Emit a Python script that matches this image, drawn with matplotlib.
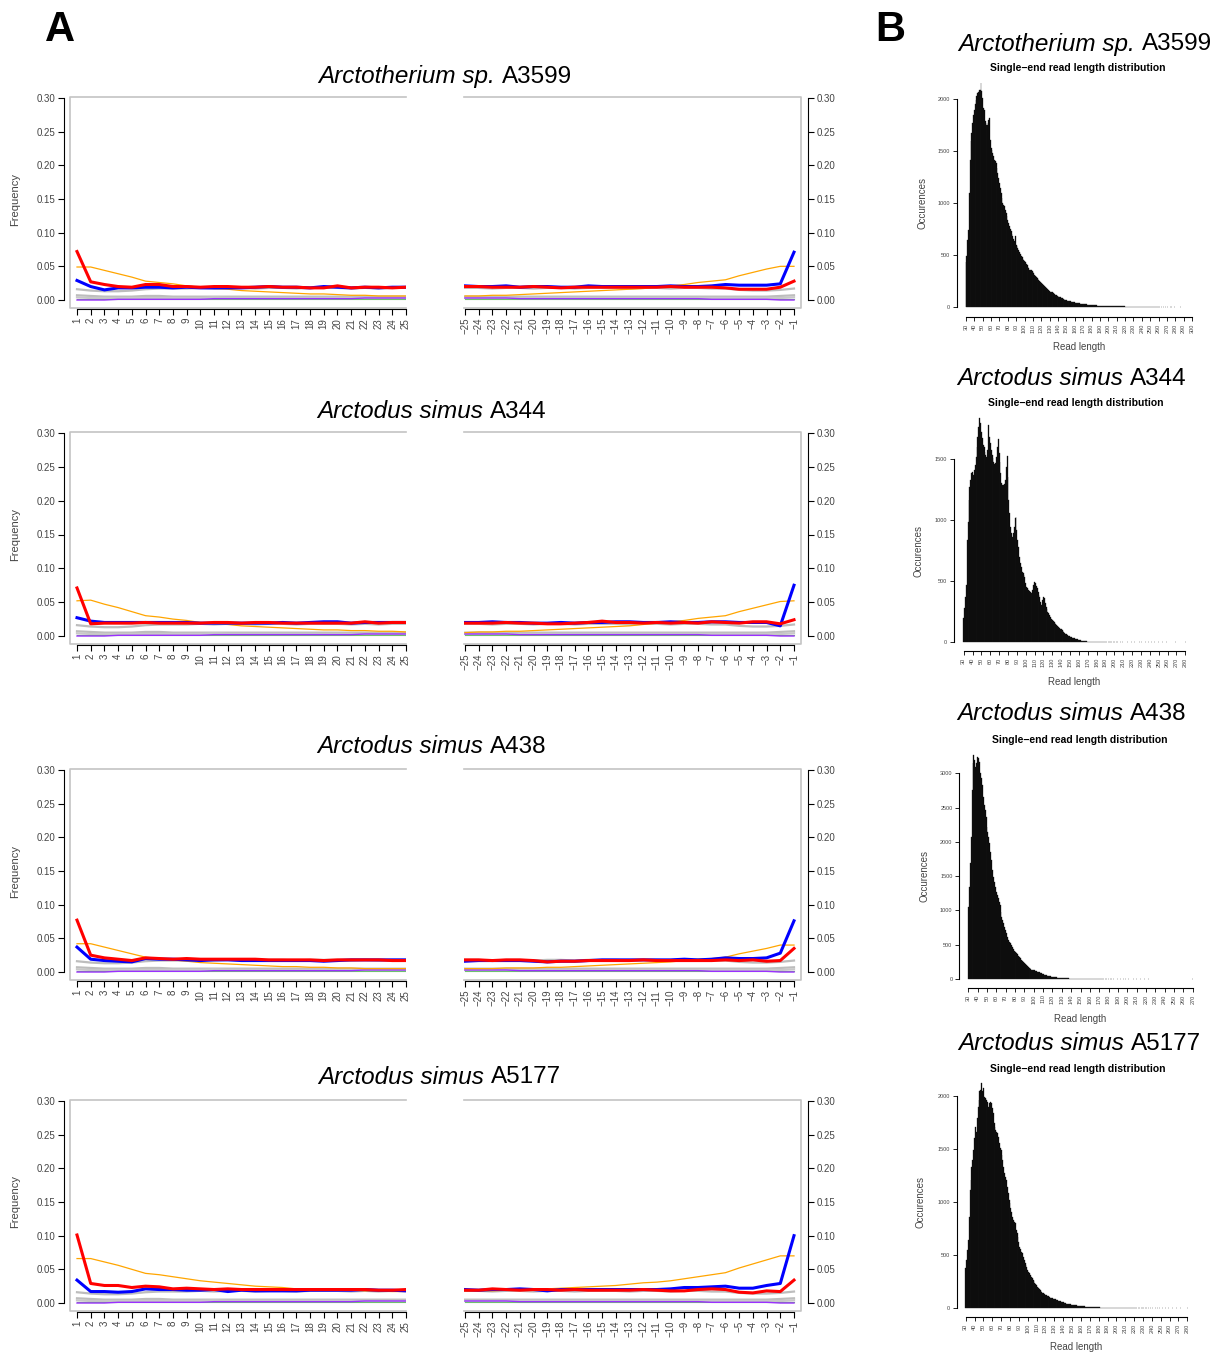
import matplotlib
matplotlib.use('Agg')
import matplotlib.pyplot as plt

plt.rcParams['font.family'] = 'Liberation Sans'

# ---- data: misincorporation frequencies (5' positions 1..25, 3' positions -25..-1)
pos5 = list(range(1, 26))
pos3 = list(range(-25, 0))
species = ['Arctotherium sp.', 'Arctodus simus', 'Arctodus simus', 'Arctodus simus']
samples = ['A3599', 'A344', 'A438', 'A5177']

a3599_ct5 = [0.072, 0.027, 0.023, 0.020, 0.019, 0.023, 0.023, 0.020, 0.020, 0.019, 0.020, 0.020, 0.019,
             0.019, 0.020, 0.019, 0.019, 0.018, 0.018, 0.021, 0.018, 0.019, 0.019, 0.018, 0.019]
a3599_ga5 = [0.029, 0.020, 0.015, 0.018, 0.018, 0.019, 0.019, 0.018, 0.019, 0.018, 0.018, 0.018, 0.018,
             0.019, 0.020, 0.019, 0.019, 0.018, 0.020, 0.019, 0.018, 0.019, 0.018, 0.019, 0.019]
a3599_clip5 = [0.049, 0.049, 0.044, 0.039, 0.034, 0.028, 0.026, 0.024, 0.021, 0.019, 0.017, 0.016, 0.014,
               0.013, 0.012, 0.011, 0.010, 0.009, 0.009, 0.008, 0.007, 0.007, 0.006, 0.006, 0.006]
a3599_ct3 = [0.020, 0.020, 0.019, 0.019, 0.019, 0.020, 0.019, 0.018, 0.019, 0.019, 0.019, 0.019, 0.019,
             0.019, 0.019, 0.020, 0.019, 0.019, 0.019, 0.018, 0.016, 0.016, 0.016, 0.019, 0.028]
a3599_ga3 = [0.021, 0.020, 0.020, 0.021, 0.019, 0.020, 0.020, 0.019, 0.019, 0.021, 0.020, 0.020, 0.020,
             0.020, 0.020, 0.021, 0.020, 0.020, 0.021, 0.023, 0.022, 0.022, 0.022, 0.024, 0.071]
a3599_clip3 = [0.006, 0.006, 0.007, 0.007, 0.008, 0.009, 0.010, 0.011, 0.012, 0.013, 0.014, 0.015, 0.016,
               0.017, 0.019, 0.021, 0.023, 0.026, 0.028, 0.030, 0.036, 0.041, 0.046, 0.050, 0.050]

a344_ct5 = [0.071, 0.018, 0.019, 0.019, 0.019, 0.020, 0.019, 0.019, 0.019, 0.019, 0.020, 0.020, 0.019,
            0.020, 0.020, 0.019, 0.019, 0.019, 0.019, 0.019, 0.019, 0.021, 0.019, 0.020, 0.020]
a344_ga5 = [0.027, 0.022, 0.020, 0.020, 0.020, 0.020, 0.020, 0.020, 0.020, 0.019, 0.019, 0.019, 0.019,
            0.019, 0.019, 0.020, 0.019, 0.020, 0.021, 0.021, 0.019, 0.020, 0.020, 0.020, 0.020]
a344_clip5 = [0.052, 0.053, 0.047, 0.042, 0.036, 0.030, 0.028, 0.025, 0.023, 0.020, 0.018, 0.017, 0.015,
              0.014, 0.013, 0.012, 0.011, 0.010, 0.009, 0.009, 0.008, 0.008, 0.007, 0.007, 0.006]
a344_ct3 = [0.019, 0.019, 0.019, 0.020, 0.019, 0.019, 0.018, 0.018, 0.019, 0.020, 0.022, 0.020, 0.020,
            0.019, 0.020, 0.019, 0.020, 0.019, 0.021, 0.020, 0.019, 0.021, 0.021, 0.018, 0.024]
a344_ga3 = [0.020, 0.020, 0.021, 0.020, 0.020, 0.019, 0.019, 0.020, 0.019, 0.020, 0.020, 0.021, 0.021,
            0.020, 0.020, 0.021, 0.020, 0.020, 0.021, 0.021, 0.020, 0.020, 0.020, 0.015, 0.075]
a344_clip3 = [0.005, 0.006, 0.006, 0.007, 0.007, 0.008, 0.009, 0.010, 0.011, 0.012, 0.013, 0.014, 0.015,
              0.017, 0.019, 0.021, 0.023, 0.026, 0.028, 0.030, 0.036, 0.041, 0.046, 0.051, 0.052]

a438_ct5 = [0.077, 0.025, 0.021, 0.019, 0.017, 0.021, 0.020, 0.019, 0.020, 0.019, 0.019, 0.019, 0.019,
            0.019, 0.018, 0.018, 0.018, 0.018, 0.017, 0.018, 0.018, 0.018, 0.018, 0.017, 0.017]
a438_ga5 = [0.037, 0.019, 0.017, 0.016, 0.015, 0.020, 0.019, 0.019, 0.018, 0.017, 0.018, 0.018, 0.017,
            0.017, 0.017, 0.017, 0.017, 0.017, 0.016, 0.017, 0.018, 0.018, 0.018, 0.018, 0.018]
a438_clip5 = [0.042, 0.042, 0.037, 0.032, 0.027, 0.022, 0.020, 0.018, 0.016, 0.014, 0.013, 0.012, 0.011,
              0.010, 0.009, 0.008, 0.008, 0.007, 0.007, 0.006, 0.006, 0.005, 0.005, 0.005, 0.005]
a438_ct3 = [0.018, 0.018, 0.017, 0.018, 0.018, 0.017, 0.015, 0.016, 0.016, 0.017, 0.017, 0.017, 0.017,
            0.018, 0.017, 0.017, 0.017, 0.017, 0.017, 0.018, 0.017, 0.018, 0.016, 0.017, 0.035]
a438_ga3 = [0.016, 0.017, 0.017, 0.017, 0.017, 0.016, 0.015, 0.016, 0.016, 0.017, 0.018, 0.018, 0.018,
            0.018, 0.018, 0.018, 0.019, 0.018, 0.019, 0.021, 0.020, 0.020, 0.021, 0.028, 0.076]
a438_clip3 = [0.005, 0.005, 0.005, 0.006, 0.006, 0.006, 0.007, 0.007, 0.008, 0.009, 0.010, 0.011, 0.012,
              0.013, 0.014, 0.015, 0.017, 0.019, 0.020, 0.022, 0.027, 0.031, 0.035, 0.040, 0.040]

a5177_ct5 = [0.101, 0.029, 0.026, 0.026, 0.023, 0.025, 0.024, 0.021, 0.022, 0.021, 0.020, 0.021, 0.020,
             0.020, 0.020, 0.020, 0.020, 0.020, 0.020, 0.020, 0.020, 0.020, 0.019, 0.019, 0.020]
a5177_ga5 = [0.034, 0.017, 0.017, 0.016, 0.017, 0.021, 0.020, 0.020, 0.019, 0.019, 0.020, 0.017, 0.019,
             0.018, 0.018, 0.018, 0.018, 0.019, 0.019, 0.019, 0.019, 0.020, 0.019, 0.019, 0.018]
a5177_clip5 = [0.066, 0.066, 0.061, 0.056, 0.050, 0.044, 0.042, 0.039, 0.036, 0.033, 0.031, 0.029, 0.027,
               0.025, 0.024, 0.023, 0.021, 0.020, 0.020, 0.019, 0.019, 0.018, 0.018, 0.017, 0.017]
a5177_ct3 = [0.019, 0.019, 0.021, 0.020, 0.019, 0.020, 0.020, 0.019, 0.020, 0.019, 0.019, 0.019, 0.019,
             0.020, 0.019, 0.018, 0.018, 0.020, 0.021, 0.020, 0.016, 0.015, 0.018, 0.017, 0.034]
a5177_ga3 = [0.020, 0.019, 0.020, 0.020, 0.021, 0.020, 0.018, 0.020, 0.020, 0.020, 0.020, 0.020, 0.020,
             0.020, 0.020, 0.021, 0.023, 0.023, 0.024, 0.025, 0.022, 0.022, 0.026, 0.029, 0.100]
a5177_clip3 = [0.018, 0.018, 0.018, 0.019, 0.019, 0.020, 0.021, 0.022, 0.023, 0.024, 0.025, 0.026, 0.028,
               0.030, 0.031, 0.033, 0.036, 0.039, 0.042, 0.045, 0.052, 0.058, 0.064, 0.070, 0.070]

# other substitutions / indels (shared, nearly identical in every sample)
other_hi5 = [0.016, 0.014, 0.013, 0.013, 0.014, 0.016, 0.017, 0.017, 0.017, 0.018, 0.017, 0.018, 0.018,
             0.017, 0.018, 0.018, 0.017, 0.018, 0.018, 0.018, 0.017, 0.018, 0.017, 0.018, 0.018]
other_hi3 = [0.018, 0.018, 0.017, 0.018, 0.018, 0.017, 0.018, 0.018, 0.017, 0.018, 0.018, 0.018, 0.017,
             0.018, 0.018, 0.017, 0.018, 0.018, 0.017, 0.017, 0.015, 0.014, 0.014, 0.015, 0.017]
other_lo5 = [0.007, 0.006, 0.005, 0.005, 0.005, 0.006, 0.006, 0.005, 0.005, 0.005, 0.005, 0.005, 0.005,
             0.005, 0.005, 0.005, 0.005, 0.005, 0.005, 0.005, 0.005, 0.005, 0.005, 0.005, 0.005]
other_lo3 = [0.005, 0.005, 0.005, 0.005, 0.005, 0.005, 0.005, 0.005, 0.005, 0.005, 0.005, 0.005, 0.005,
             0.005, 0.005, 0.005, 0.005, 0.005, 0.005, 0.005, 0.005, 0.005, 0.005, 0.006, 0.007]
other_min5 = [0.004, 0.003, 0.003, 0.003, 0.003, 0.003, 0.003, 0.003, 0.003, 0.003, 0.004, 0.003, 0.003,
              0.003, 0.003, 0.003, 0.003, 0.003, 0.003, 0.003, 0.003, 0.003, 0.003, 0.003, 0.003]
other_min3 = [0.003, 0.003, 0.003, 0.003, 0.003, 0.003, 0.003, 0.003, 0.003, 0.003, 0.003, 0.003, 0.003,
              0.003, 0.003, 0.003, 0.003, 0.003, 0.003, 0.003, 0.003, 0.003, 0.003, 0.003, 0.004]
ins5 = [0.002, 0.002, 0.002, 0.002, 0.002, 0.002, 0.002, 0.002, 0.002, 0.002, 0.002, 0.002, 0.002,
        0.002, 0.002, 0.002, 0.002, 0.002, 0.002, 0.002, 0.002, 0.002, 0.002, 0.002, 0.002]
ins3 = [0.002, 0.002, 0.002, 0.002, 0.002, 0.002, 0.002, 0.002, 0.002, 0.002, 0.002, 0.002, 0.002,
        0.002, 0.002, 0.002, 0.002, 0.002, 0.002, 0.002, 0.002, 0.002, 0.002, 0.002, 0.002]
del5 = [0.000, 0.000, 0.000, 0.001, 0.001, 0.001, 0.001, 0.001, 0.001, 0.001, 0.002, 0.002, 0.002,
        0.002, 0.002, 0.002, 0.002, 0.002, 0.002, 0.002, 0.002, 0.003, 0.003, 0.003, 0.003]
del3 = [0.003, 0.003, 0.003, 0.003, 0.002, 0.002, 0.002, 0.002, 0.002, 0.002, 0.002, 0.002, 0.002,
        0.002, 0.002, 0.002, 0.002, 0.002, 0.001, 0.001, 0.001, 0.001, 0.001, 0.000, 0.000]

ct5 = [a3599_ct5, a344_ct5, a438_ct5, a5177_ct5]
ga5 = [a3599_ga5, a344_ga5, a438_ga5, a5177_ga5]
clip5 = [a3599_clip5, a344_clip5, a438_clip5, a5177_clip5]
ct3 = [a3599_ct3, a344_ct3, a438_ct3, a5177_ct3]
ga3 = [a3599_ga3, a344_ga3, a438_ga3, a5177_ga3]
clip3 = [a3599_clip3, a344_clip3, a438_clip3, a5177_clip3]

# ---- data: read length distributions (counts for lengths 30, 31, ...)
a3599_len = [430, 487, 647, 743, 1096, 1417, 1593, 1673, 1769, 1849,
             1897, 1950, 1994, 2030, 2058, 2070, 2083, 2090, 2154, 2074,
             2010, 1913, 1897, 1785, 1753, 1769, 1753, 1801, 1817, 1609,
             1529, 1513, 1481, 1450, 1417, 1400, 1385, 1340, 1288, 1240,
             1192, 1144, 1096, 1048, 1000, 985, 968, 936, 904, 872,
             840, 808, 776, 752, 728, 703, 679, 655, 631, 679,
             599, 583, 567, 546, 526, 506, 487, 476, 465, 453,
             442, 430, 417, 401, 385, 372, 359, 356, 353, 346,
             340, 325, 311, 300, 288, 278, 269, 260, 250, 240,
             231, 223, 215, 207, 199, 189, 179, 173, 167, 160,
             154, 149, 144, 140, 135, 130, 125, 120, 115, 110,
             106, 100, 96, 92, 88, 84, 80, 76, 72, 68,
             64, 62, 60, 58, 56, 54, 52, 50, 48, 46,
             45, 43, 41, 39, 37, 35, 34, 33, 31, 30,
             29, 28, 27, 26, 25, 24, 23, 22, 21, 20,
             19, 18, 17, 17, 16, 16, 15, 14, 14, 13,
             13, 12, 12, 12, 11, 11, 11, 10, 10, 10,
             9, 9, 9, 8, 8, 8, 8, 7, 7, 7,
             7, 6, 6, 6, 6, 5, 5, 5, 5, 5,
             4, 4, 4, 4, 4, 4, 3, 3, 3, 3,
             3, 3, 3, 3, 2, 2, 2, 2, 2, 2,
             2, 2, 2, 2, 2, 1, 1, 1, 1, 1,
             1, 1, 1, 1, 1, 1, 1, 1, 1, 1,
             1, 1, 0, 1, 1, 0, 1, 0, 1, 1,
             0, 1, 0, 0, 1, 0, 1, 0, 0, 1,
             0, 0, 1, 0, 0, 0, 1, 0, 0, 0,
             0, 0, 0, 0, 1, 0, 0, 0, 0, 0,
             1]
a344_len = [196, 278, 374, 469, 837, 987, 1164, 1273, 1328, 1383,
            1396, 1369, 1410, 1451, 1519, 1601, 1683, 1765, 1833, 1792,
            1723, 1669, 1614, 1600, 1560, 1533, 1519, 1573, 1778, 1683,
            1628, 1573, 1533, 1505, 1478, 1459, 1464, 1519, 1601, 1661,
            1546, 1478, 1383, 1301, 1287, 1287, 1292, 1328, 1437, 1524,
            1355, 1164, 1055, 946, 892, 865, 892, 946, 1014, 1028,
            919, 837, 783, 701, 646, 619, 578, 565, 551, 537,
            483, 455, 442, 428, 420, 412, 406, 401, 428, 469,
            496, 483, 461, 442, 414, 387, 368, 333, 305, 346,
            374, 360, 319, 292, 270, 251, 237, 221, 205, 194,
            183, 172, 164, 155, 147, 142, 136, 128, 120, 112,
            106, 101, 93, 87, 79, 71, 65, 60, 55, 52,
            46, 43, 40, 37, 34, 32, 29, 27, 25, 22,
            19, 17, 15, 14, 12, 11, 10, 9, 8, 7,
            6, 5, 5, 4, 4, 3, 3, 3, 2, 2,
            2, 2, 2, 1, 1, 1, 1, 1, 1, 1,
            1, 1, 0, 1, 1, 0, 1, 1, 0, 1,
            1, 0, 1, 0, 1, 0, 0, 1, 0, 1,
            0, 0, 1, 0, 0, 1, 0, 0, 0, 1,
            0, 0, 0, 1, 0, 0, 0, 0, 1, 0,
            0, 1, 0, 0, 0, 1, 0, 0, 1, 0,
            0, 0, 1, 0, 0, 1, 0, 0, 0, 0,
            1, 0, 0, 0, 1, 0, 0, 0, 0, 1,
            0, 0, 0, 0, 0, 0, 0, 0, 0, 1,
            0, 0, 0, 0, 0, 0, 0, 0, 0, 0,
            1]
a438_len = [1055, 1347, 1687, 2076, 2757, 3146, 3267, 3194, 3097, 3146,
            3243, 3219, 3170, 3000, 2927, 2830, 2660, 2538, 2465, 2368,
            2222, 2149, 2076, 1979, 1857, 1736, 1590, 1493, 1420, 1347,
            1274, 1225, 1177, 1128, 1079, 982, 909, 861, 812, 763,
            715, 666, 617, 569, 545, 530, 496, 462, 433, 413,
            389, 374, 384, 365, 340, 316, 301, 277, 263, 243,
            229, 214, 199, 190, 175, 165, 156, 146, 136, 131,
            131, 125, 119, 113, 107, 101, 95, 88, 82, 75,
            68, 64, 60, 56, 52, 48, 44, 40, 37, 34,
            31, 28, 26, 24, 22, 20, 18, 16, 15, 14,
            13, 12, 11, 10, 10, 9, 8, 8, 7, 7,
            6, 6, 5, 5, 5, 4, 4, 4, 3, 3,
            3, 3, 3, 3, 2, 2, 2, 2, 2, 2,
            2, 2, 1, 1, 1, 1, 1, 1, 1, 1,
            1, 1, 1, 0, 1, 1, 0, 1, 1, 0,
            1, 0, 1, 1, 0, 1, 0, 0, 1, 0,
            1, 0, 0, 1, 0, 0, 1, 0, 1, 0,
            0, 1, 0, 0, 1, 0, 0, 1, 0, 0,
            1, 0, 0, 0, 1, 0, 0, 0, 1, 0,
            0, 0, 0, 1, 0, 0, 0, 0, 0, 0,
            0, 0, 0, 0, 0, 0, 0, 0, 0, 0,
            0, 0, 0, 0, 0, 0, 0, 0, 0, 0,
            0, 0, 0, 0, 0, 0, 0, 0, 0, 0,
            0, 0, 0, 0, 0, 0, 0, 0, 0, 0,
            1]
a5177_len = [374, 452, 546, 641, 860, 1112, 1206, 1331, 1394, 1488,
             1598, 1708, 1661, 1787, 1897, 1959, 2041, 2054, 2116, 2041,
             2072, 1991, 1975, 1959, 1928, 1944, 1897, 1928, 1944, 1928,
             1881, 1834, 1740, 1708, 1677, 1661, 1645, 1614, 1551, 1504,
             1488, 1441, 1394, 1331, 1269, 1237, 1206, 1143, 1080, 1017,
             986, 939, 907, 860, 829, 813, 798, 735, 703, 672,
             625, 578, 553, 531, 515, 484, 452, 427, 405, 383,
             358, 342, 327, 311, 295, 279, 264, 251, 239, 226,
             214, 201, 192, 182, 170, 163, 154, 144, 138, 129,
             122, 118, 114, 110, 106, 102, 98, 94, 90, 87,
             84, 81, 78, 75, 72, 69, 66, 63, 60, 57,
             54, 51, 48, 45, 42, 40, 38, 36, 34, 32,
             30, 28, 27, 26, 25, 24, 23, 22, 21, 20,
             19, 18, 17, 16, 15, 14, 13, 12, 11, 10,
             10, 9, 9, 8, 8, 7, 7, 6, 6, 5,
             5, 5, 4, 4, 4, 4, 3, 3, 3, 3,
             3, 3, 2, 2, 2, 2, 2, 2, 2, 2,
             2, 2, 2, 1, 2, 1, 1, 2, 1, 1,
             1, 1, 1, 1, 1, 1, 1, 1, 1, 1,
             1, 0, 1, 1, 0, 1, 1, 0, 1, 1,
             0, 1, 0, 1, 1, 0, 1, 0, 1, 0,
             0, 1, 0, 0, 1, 0, 1, 0, 0, 1,
             0, 0, 1, 0, 0, 1, 0, 0, 0, 1,
             0, 0, 0, 1, 0, 0, 0, 0, 1, 0,
             0, 0, 1, 0, 0, 0, 0, 0, 0, 0,
             1]
len_counts = [a3599_len, a344_len, a438_len, a5177_len]
len_xmax = [300, 280, 270, 280]
len_ymax = [2000, 1500, 3000, 2000]

# ---- layout (pixels of the 1227x1354 canvas)
W, H = 1227, 1354
fig = plt.figure(figsize=(W / 100, H / 100), dpi=100)
renderer = fig.canvas.get_renderer()


def rect(x0, x1, ytop, ybot):
    return [x0 / W, 1 - ybot / H, (x1 - x0) / W, (ybot - ytop) / H]


def mixed_title(xc, yc, ital, rest, size=17.5):
    # italic species name followed by upright sample id, centred as one line
    t1 = fig.text(0, 1 - yc / H, ital, style='italic', fontsize=size, ha='left', va='center')
    t2 = fig.text(0, 1 - yc / H, rest, fontsize=size, ha='left', va='center')
    w1 = t1.get_window_extent(renderer).width
    w2 = t2.get_window_extent(renderer).width
    gap = size * 0.278 / 0.72
    x0 = xc - (w1 + gap + w2) / 2
    t1.set_x(x0 / W)
    t2.set_x((x0 + w1 + gap) / W)


PT = 0.72  # points per pixel
frame_col = '#c4c4c4'
tick_col = '#444444'

row_y0 = [300, 636, 972, 1303]
row_y30 = [98, 433, 770, 1101]
title_x = [445, 432, 432, 440]
title_y = [77, 412, 747, 1077]
ux = 329 / 24.0

for r in range(4):
    y0, y30 = row_y0[r], row_y30[r]
    py = (y0 - y30) / 0.3
    ylim = (-8 / py, 0.30 + 1 / py)

    axL = fig.add_axes(rect(70, 406, y30 - 1, y0 + 8))
    axR = fig.add_axes(rect(464, 801, y30 - 1, y0 + 8))
    axL.set_xlim(1 - 7 / ux, 25)
    axR.set_xlim(-25 - 1 / ux, -1 + 7 / ux)

    for ax, xs, ct, ga, cl, hi, lo, mn, ins, dl in [
            (axL, pos5, ct5[r], ga5[r], clip5[r], other_hi5, other_lo5, other_min5, ins5, del5),
            (axR, pos3, ct3[r], ga3[r], clip3[r], other_hi3, other_lo3, other_min3, ins3, del3)]:
        ax.set_ylim(*ylim)
        ax.plot(xs, hi, color='#bdbdbd', lw=1.6)
        ax.plot(xs, lo, color='#bdbdbd', lw=1.6)
        ax.plot(xs, mn, color='#c8c8c8', lw=1.6)
        ax.plot(xs, ins, color='#6fbf6f', lw=0.8)
        ax.plot(xs, dl, color='#9b30ff', lw=1.0)
        ax.plot(xs, cl, color='orange', lw=0.9)
        ax.plot(xs, ga, color='blue', lw=2.2)
        ax.plot(xs, ct, color='red', lw=2.2)
        ax.set_yticks([0, 0.05, 0.10, 0.15, 0.20, 0.25, 0.30])
        ax.set_yticklabels(['0.00', '0.05', '0.10', '0.15', '0.20', '0.25', '0.30'])
        ax.set_xticks(xs)
        ax.set_xticklabels([str(v).replace('-', '\u2212') for v in xs])
        ax.tick_params(length=6 * PT, width=0.8, labelsize=7, labelcolor=tick_col, pad=2)
        ax.tick_params(axis='x', labelrotation=90)
        ax.spines['top'].set_visible(False)
        ax.spines['bottom'].set_position(('outward', 1 * PT))
        ax.spines['bottom'].set_bounds(xs[0], xs[-1])
        ax.spines['bottom'].set_linewidth(0.8)

    axL.spines['right'].set_visible(False)
    axL.spines['left'].set_position(('outward', 6 * PT))
    axL.spines['left'].set_bounds(0, 0.3)
    axL.spines['left'].set_linewidth(0.8)
    axL.plot([1, 0, 0, 1], [1, 1, 0, 0], transform=axL.transAxes, color=frame_col,
             lw=1.2, clip_on=False, zorder=0)

    axR.spines['left'].set_visible(False)
    axR.spines['right'].set_position(('outward', 7 * PT))
    axR.spines['right'].set_bounds(0, 0.3)
    axR.spines['right'].set_linewidth(0.8)
    axR.yaxis.tick_right()
    axR.plot([0, 1, 1, 0], [1, 1, 0, 0], transform=axR.transAxes, color=frame_col,
             lw=1.2, clip_on=False, zorder=0)

    fig.text(15 / W, 1 - (y0 + y30) / 2 / H, 'Frequency', rotation=90, fontsize=8,
             color=tick_col, ha='center', va='center')
    mixed_title(title_x[r], title_y[r], species[r], samples[r])

# ---- read length histograms
h_x30 = [966, 963.7, 968.3, 965.7]
h_xend = [1192, 1185.3, 1192.7, 1187.3]
h_y0 = [307, 642.3, 979, 1308]
h_ytop = [99, 459, 773.3, 1095.7]
h_axx = [957, 954, 959.3, 956.7]
h_axy = [317, 651, 987.7, 1316.7]
h_title_x = [1085, 1072, 1072, 1080]
h_title_y = [44, 379, 714, 1044]
h_sub_x = [1078, 1076, 1080, 1078]
h_sub_y = [68, 403, 740, 1069]
h_xlab_y = [347, 682, 1019, 1347]
h_ylab_x = [922, 919, 924, 921]

for r in range(4):
    counts = len_counts[r]
    lengths = [30 + i for i, c in enumerate(counts) if c > 0]
    heights = [c for c in counts if c > 0]
    sx = (h_xend[r] - h_x30[r]) / (len_xmax[r] - 30)
    sy = (h_y0[r] - h_ytop[r]) / len_ymax[r]
    top_val = max(counts) * 1.04
    top_px = h_y0[r] - top_val * sy
    right_px = h_xend[r] + 12
    ax = fig.add_axes(rect(h_axx[r], right_px, top_px, h_axy[r]))
    ax.set_xlim(30 - (h_x30[r] - h_axx[r]) / sx, len_xmax[r] + 12 / sx)
    ax.set_ylim(-(h_axy[r] - h_y0[r]) / sy, top_val)
    ax.bar(lengths, heights, width=1.0, color='black', edgecolor='#1e1e1e', linewidth=0.25)
    for s in ['top', 'right']:
        ax.spines[s].set_visible(False)
    ax.spines['left'].set_bounds(0, len_ymax[r])
    ax.spines['bottom'].set_bounds(30, len_xmax[r])
    ax.spines['left'].set_linewidth(0.8)
    ax.spines['bottom'].set_linewidth(0.8)
    ax.set_yticks(list(range(0, len_ymax[r] + 1, 500)))
    ax.set_xticks(list(range(30, len_xmax[r] + 1, 10)))
    ax.tick_params(length=4 * PT, width=0.6, labelsize=4, labelcolor=tick_col, pad=2)
    ax.tick_params(axis='x', labelrotation=90)
    mixed_title(h_title_x[r], h_title_y[r], species[r], samples[r])
    fig.text(h_sub_x[r] / W, 1 - h_sub_y[r] / H, 'Single\u2212end read length distribution',
             fontsize=7.5, weight='bold', ha='center', va='center')
    fig.text((h_x30[r] + h_xend[r]) / 2 / W, 1 - h_xlab_y[r] / H, 'Read length', fontsize=7,
             color=tick_col, ha='center', va='center')
    fig.text(h_ylab_x[r] / W, 1 - (h_y0[r] + h_ytop[r]) / 2 / H, 'Occurences', rotation=90,
             fontsize=7, color=tick_col, ha='center', va='center')

fig.text(60 / W, 1 - 30 / H, 'A', fontsize=30, weight='bold', ha='center', va='center')
fig.text(890 / W, 1 - 30 / H, 'B', fontsize=30, weight='bold', ha='center', va='center')

fig.savefig('out.png', dpi=100)
